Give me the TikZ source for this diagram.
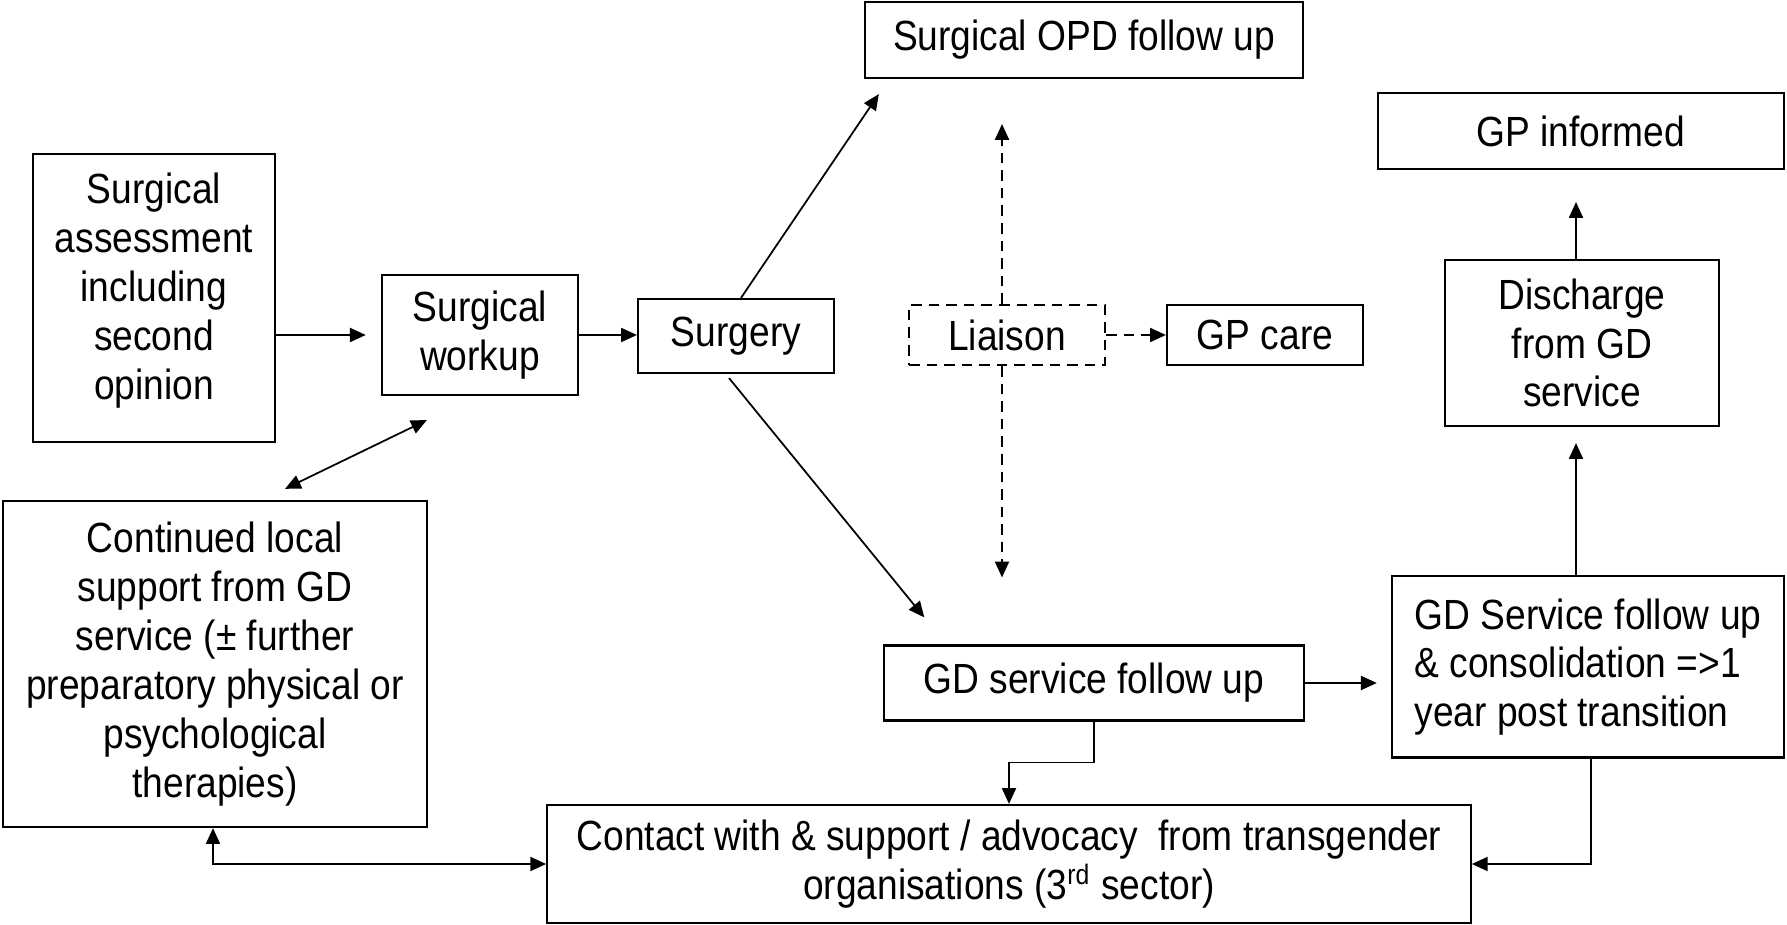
\documentclass[tikz,border=0pt]{standalone}
\usepackage{fontspec}
\setmainfont{Liberation Sans}[FakeStretch=0.88]
\usetikzlibrary{arrows.meta,calc}
\begin{document}
\begin{tikzpicture}[x=0.01cm,y=-0.01cm,
  box/.style={draw, line width=0.6pt, inner sep=0pt, font=\fontsize{12}{13.9}\selectfont, align=center},
  arr/.style={line width=0.5pt, -{Triangle[length=4.5pt,width=4pt]}},
  darr/.style={line width=0.5pt, {Triangle[length=4.5pt,width=4pt]}-{Triangle[length=4.5pt,width=4pt]}},
  dsh/.style={dash pattern=on 3pt off 2pt}]
\useasboundingbox (0,0) rectangle (1787,925);

\node[box, minimum width=2.42cm, minimum height=2.87cm] (assess) at (154,298) {Surgical\\assessment\\including\\second\\opinion\\[-0.25cm]\mbox{}};
\node[box, minimum width=1.96cm, minimum height=1.20cm] (workup) at (480,335) {Surgical\\workup};
\node[box, minimum width=1.96cm, minimum height=0.74cm] (surgery) at (736,336) {Surgery};
\node[box, minimum width=4.38cm, minimum height=0.76cm] (opd) at (1084,40) {Surgical OPD follow up};
\node[box, dsh, minimum width=1.96cm, minimum height=0.60cm] (liaison) at (1007,335) {Liaison};
\node[box, minimum width=1.96cm, minimum height=0.60cm] (gpcare) at (1265,335) {GP care};
\node[box, minimum width=4.06cm, minimum height=0.76cm] (gpinf) at (1581,131) {GP informed};
\node[box, minimum width=2.73cm, minimum height=1.66cm] (discharge) at (1582,343) {Discharge\\from GD\\service};
\node[box, minimum width=4.23cm, minimum height=3.26cm] (continued) at (215,664) {Continued local\\support from GD\\service (± further\\preparatory physical or\\psychological\\therapies)};
\node[box, minimum width=4.19cm, minimum height=0.75cm] (gdfu) at (1094,683) {GD service follow up};
\node[box, align=left, minimum width=3.92cm, minimum height=1.81cm] (consol) at (1588,667) {GD Service follow up\\\& consolidation =>1\\year post transition};
\node[box, minimum width=9.23cm, minimum height=1.18cm] (contact) at (1009,864) {Contact with \& support / advocacy\ \ from transgender\\organisations (3\textsuperscript{rd} sector)};

\draw[arr, shorten >=4.3pt] (assess.east |- workup.west) -- (workup.west);
\draw[arr] (workup.east) -- (workup.east -| surgery.west);
\draw[arr] ($(surgery.north)+(5,0)$) -- ($(opd.south west)+(15,15)$);
\draw[arr] ($(surgery.south)+(-7,4)$) -- ($(gdfu.north west)+(41,-27)$);
\draw[arr, dsh] ($(liaison.north)+(-5,0)$) -- ($(opd.south)+(-82,45)$);
\draw[arr, dsh] ($(liaison.south)+(-5,0)$) -- ($(gdfu.north)+(-92,-67)$);
\draw[arr, dsh] (liaison.east) -- (gpcare.west);
\draw[darr] ($(continued.north)+(70,-11)$) -- ($(workup.south west)+(46,24)$);
\draw[arr] ($(discharge.north)+(-6,0)$) -- ($(gpinf.south)+(-5,32)$);
\draw[arr] ($(consol.north)+(-12,0)$) -- ($(discharge.south)+(-6,16)$);
\draw[arr, shorten >=4pt] (gdfu.east) -- (gdfu.east -| consol.west);
\draw[arr] (gdfu.south) -- ++(0,41) -| (contact.north);
\draw[arr] ($(consol.south)+(3,0)$) |- (contact.east);
\draw[darr] ($(continued.south)+(-2,0)$) |- (contact.west);
\end{tikzpicture}
\end{document}
